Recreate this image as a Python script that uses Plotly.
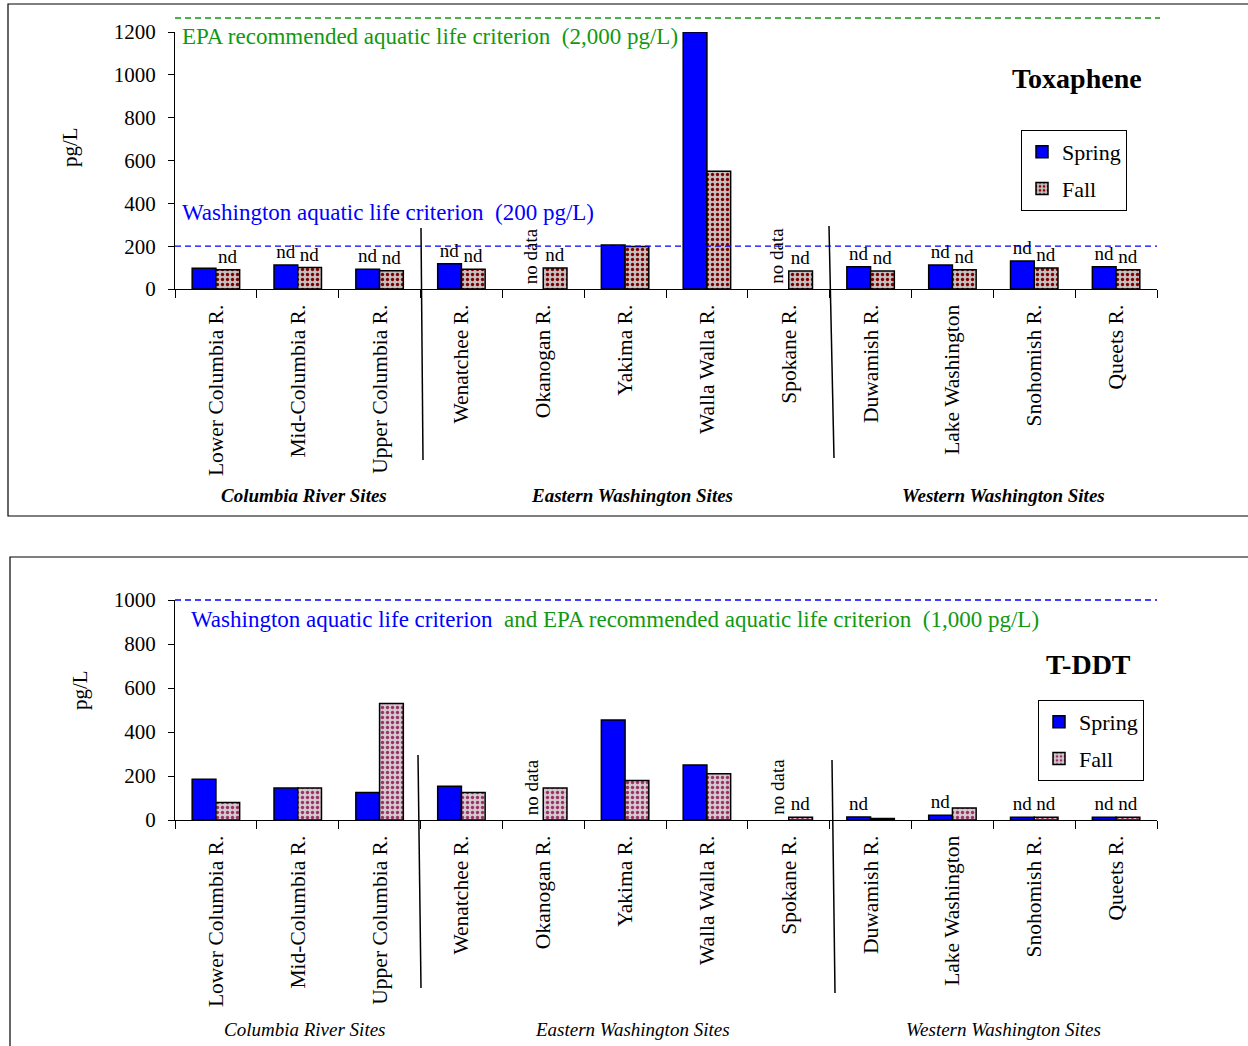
import plotly.graph_objects as go

# Sampling sites (shared by both panels)
sites = ["Lower Columbia R.", "Mid-Columbia R.", "Upper Columbia R.", "Wenatchee R.",
         "Okanogan R.", "Yakima R.", "Walla Walla R.", "Spokane R.", "Duwamish R.",
         "Lake Washington", "Snohomish R.", "Queets R."]

# Toxaphene, pg/L (None = no data)
tox_spring = [97, 112, 92, 118, None, 205, 1200, None, 104, 112, 131, 104]
tox_fall = [90, 100, 85, 92, 98, 198, 550, 84, 84, 90, 98, 90]
tox_spring_lbl = ["", "nd", "nd", "nd", "", "", "", "", "nd", "nd", "nd", "nd"]
tox_fall_lbl = ["nd", "nd", "nd", "nd", "nd", "", "", "nd", "nd", "nd", "nd", "nd"]

# T-DDT, pg/L (None = no data)
ddt_spring = [185, 145, 125, 153, None, 455, 250, None, 14, 22, 13, 13]
ddt_fall = [80, 145, 530, 125, 145, 180, 210, 12, 7, 55, 13, 13]
ddt_spring_lbl = ["", "", "", "", "", "", "", "", "nd", "nd", "nd", "nd"]
ddt_fall_lbl = ["", "", "", "", "", "", "", "nd", "", "", "nd", "nd"]

no_data_sites = ["Okanogan R.", "Spokane R."]
groups = ["Columbia River Sites", "Eastern Washington Sites", "Western Washington Sites"]

SERIF = "Times New Roman, Liberation Serif, serif"
W, H = 1248, 1046


def px(x):
    return x / W


def py(y):
    return 1 - y / H


fig = go.Figure()


def add_pair(spring, fall, s_lbl, f_lbl, xa, ya, leg, fall_bg, fall_dot, tag):
    fig.add_trace(go.Bar(
        x=sites, y=spring, name="Spring", xaxis=xa, yaxis=ya, legend=leg,
        legendgroup="spring" + tag,
        marker=dict(color="#0000ff", line=dict(color="black", width=1.5)),
        text=s_lbl, textposition="outside", constraintext="none", cliponaxis=False,
        textfont=dict(family=SERIF, size=19, color="black"), hoverinfo="x+y",
    ))
    fig.add_trace(go.Bar(
        x=sites, y=fall, name="Fall", xaxis=xa, yaxis=ya, legend=leg,
        legendgroup="fall" + tag,
        marker=dict(color=fall_bg, line=dict(color="black", width=1.5),
                    pattern=dict(shape=".", fgcolor=fall_dot, bgcolor=fall_bg,
                                 size=5, solidity=0.35, fillmode="replace")),
        text=f_lbl, textposition="outside", constraintext="none", cliponaxis=False,
        textfont=dict(family=SERIF, size=19, color="black"), hoverinfo="x+y",
    ))


add_pair(tox_spring, tox_fall, tox_spring_lbl, tox_fall_lbl, "x", "y", "legend",
         "#c4c0c0", "#800000", "1")
add_pair(ddt_spring, ddt_fall, ddt_spring_lbl, ddt_fall_lbl, "x2", "y2", "legend2",
         "#d6c8cf", "#993366", "2")

xcommon = dict(type="category", range=[-0.5, 11.5], showline=True, linecolor="black",
               linewidth=1.2, ticks="outside", tickson="boundaries", ticklen=8,
               tickcolor="black", tickangle=-90, showgrid=False, automargin=False,
               tickfont=dict(family=SERIF, size=21.5, color="black"),
               ticklabelstandoff=6, domain=[px(175), px(1157)])
ycommon = dict(showline=True, linecolor="black", linewidth=1.2, ticks="outside",
               ticklen=6, tickcolor="black", showgrid=False, zeroline=False,
               automargin=False,
               tickfont=dict(family=SERIF, size=21, color="black"),
               ticklabelstandoff=8, dtick=200)

legcommon = dict(xanchor="left", yanchor="top", bordercolor="black", borderwidth=1,
                 bgcolor="white", font=dict(family=SERIF, size=22),
                 tracegroupgap=5, itemwidth=30)

fig.update_layout(
    width=W, height=H, margin=dict(l=0, r=0, t=0, b=0, autoexpand=False),
    paper_bgcolor="white", plot_bgcolor="white",
    barmode="group", bargap=0.42, bargroupgap=0,
    font=dict(family=SERIF, color="black"),
    xaxis=dict(xcommon, anchor="y"),
    yaxis=dict(ycommon, anchor="x", range=[0, 1200], domain=[py(289), py(32)]),
    xaxis2=dict(xcommon, anchor="y2"),
    yaxis2=dict(ycommon, anchor="x2", range=[0, 1000], domain=[py(820), py(600)]),
    legend=dict(legcommon, x=px(1021), y=py(130)),
    legend2=dict(legcommon, x=px(1038), y=py(700)),
    showlegend=True,
)

shapes = []
# Panel frames
shapes.append(dict(type="rect", xref="paper", yref="paper", x0=px(8), x1=1.02,
                   y0=py(516), y1=py(4), line=dict(color="black", width=1.2)))
shapes.append(dict(type="rect", xref="paper", yref="paper", x0=px(10), x1=1.02,
                   y0=-0.02, y1=py(557), line=dict(color="black", width=1.2)))
# Criterion lines
shapes.append(dict(type="line", xref="paper", yref="paper", x0=px(175), x1=px(1160),
                   y0=py(18), y1=py(18), line=dict(color="#119911", width=1.3, dash="6px,4px")))
shapes.append(dict(type="line", xref="x domain", yref="y", x0=0, x1=1.0,
                   y0=200, y1=200, line=dict(color="#0000ff", width=1.3, dash="6px,4px")))
shapes.append(dict(type="line", xref="paper", yref="paper", x0=px(175), x1=px(1157),
                   y0=py(600), y1=py(600), line=dict(color="#0000ff", width=1.3, dash="6px,4px")))
# Region separators
for (x0, y0, x1, y1) in [(421, 228, 423, 460), (829, 226, 834, 458),
                         (418, 755, 421, 988), (832, 760, 835, 993)]:
    shapes.append(dict(type="line", xref="paper", yref="paper", x0=px(x0), y0=py(y0),
                       x1=px(x1), y1=py(y1), line=dict(color="black", width=1.5)))
fig.update_layout(shapes=shapes)

ann = []


def txt(x, y, s, size=23, color="black", xanchor="left", angle=0, **kw):
    ann.append(dict(xref="paper", yref="paper", x=px(x), y=py(y), text=s,
                    showarrow=False, xanchor=xanchor, yanchor="middle", textangle=angle,
                    font=dict(family=SERIF, size=size, color=color), **kw))


txt(180, 36, "EPA recommended aquatic life criterion  (2,000 pg/L)", color="#119911")
txt(180, 213, "Washington aquatic life criterion  (200 pg/L)", color="#0000ff")
txt(189, 619, "<span style='color:#0000ff'>Washington aquatic life criterion</span>"
              "  and EPA recommended aquatic life criterion  (1,000 pg/L)", color="#119911")
txt(1077, 78, "<b>Toxaphene</b>", size=28, xanchor="center")
txt(1088, 664, "<b>T-DDT</b>", size=28, xanchor="center")
txt(70, 147, "pg/L", size=21, xanchor="center", angle=-90)
txt(80, 690, "pg/L", size=21, xanchor="center", angle=-90)

for g, xc in zip(groups, [304, 632, 1003]):
    txt(xc, 495, "<b><i>" + g + "</i></b>", size=19, xanchor="center")
    txt(xc, 1029, "<i>" + g + "</i>", size=19, xanchor="center")

# "no data" markers at the spring slot of sites without spring samples
for ya in ["y", "y2"]:
    for s in no_data_sites:
        ann.append(dict(xref="x" if ya == "y" else "x2", yref=ya, x=s, y=0,
                        text="no data", showarrow=False, textangle=-90,
                        xanchor="center", yanchor="bottom", xshift=-12, yshift=3,
                        font=dict(family=SERIF, size=19, color="black")))

fig.update_layout(annotations=ann)
fig.write_html("out.html")
